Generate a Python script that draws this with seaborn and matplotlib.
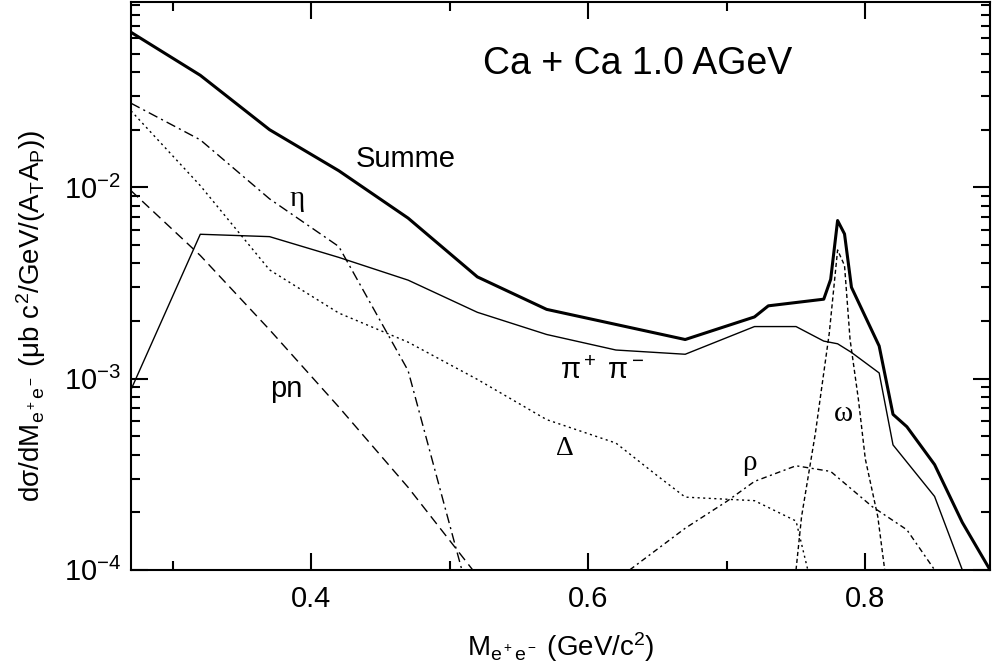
import pandas as pd
import seaborn as sns
import matplotlib.pyplot as plt
from matplotlib.ticker import MultipleLocator, LogLocator, NullFormatter

# dilepton mass (GeV/c^2) and dsigma/dM for each contribution
summe_m = [0.27, 0.32, 0.37, 0.42, 0.47, 0.52, 0.57, 0.67, 0.72, 0.73, 0.77, 0.775, 0.78, 0.785, 0.79,
           0.81, 0.82, 0.83, 0.85, 0.87, 0.89]
summe_y = [0.0646, 0.0385, 0.0200, 0.0122, 0.0069, 0.0034, 0.0023, 0.0016, 0.0021, 0.0024, 0.0026, 0.0033,
           0.0067, 0.0057, 0.0030, 0.00148, 0.00065, 0.00056, 0.000355, 0.000177, 0.0001]

pipi_m = [0.27, 0.32, 0.37, 0.42, 0.47, 0.52, 0.57, 0.62, 0.67, 0.72, 0.75, 0.77, 0.78, 0.79, 0.81,
          0.82, 0.85, 0.87]
pipi_y = [0.000875, 0.00568, 0.00552, 0.0043, 0.00327, 0.00222, 0.0017, 0.00141, 0.00134, 0.00187,
          0.00187, 0.00157, 0.00152, 0.00137, 0.00107, 0.00045, 0.000242, 0.0001]

eta_m = [0.27, 0.32, 0.37, 0.42, 0.47, 0.52]
eta_y = [0.0275, 0.0177, 0.0087, 0.0049, 0.0011, 0.00005]

delta_m = [0.27, 0.32, 0.37, 0.42, 0.47, 0.52, 0.57, 0.62, 0.65, 0.67, 0.72, 0.75, 0.76]
delta_y = [0.0251, 0.0102, 0.0037, 0.0022, 0.00155, 0.00099, 0.00061, 0.00046, 0.00031, 0.00024,
           0.00023, 0.00018, 0.00009]

pn_m = [0.27, 0.32, 0.37, 0.42, 0.47, 0.52]
pn_y = [0.0096, 0.0044, 0.0018, 0.00071, 0.00027, 0.000093]

rho_m = [0.63, 0.67, 0.70, 0.72, 0.75, 0.775, 0.805, 0.83, 0.85]
rho_y = [0.0001, 0.000165, 0.000228, 0.00029, 0.00035, 0.000327, 0.000214, 0.000162, 0.0001]

omega_m = [0.75, 0.754, 0.764, 0.774, 0.78, 0.785, 0.789, 0.795, 0.80, 0.809, 0.814]
omega_y = [0.0001, 0.00019, 0.00052, 0.00173, 0.0047, 0.0039, 0.0016, 0.00078, 0.00038, 0.00019, 0.0001]

sns.set_theme(style="ticks")
plt.rcParams['font.family'] = ['Liberation Sans', 'DejaVu Sans']
plt.rcParams['mathtext.fontset'] = 'custom'
plt.rcParams['mathtext.rm'] = 'Liberation Sans'
plt.rcParams['mathtext.it'] = 'Liberation Sans:italic'
plt.rcParams['mathtext.bf'] = 'Liberation Sans:bold'
plt.rcParams['text.color'] = 'black'
plt.rcParams['axes.labelcolor'] = 'black'

fig = plt.figure(figsize=(10, 6.72), dpi=100)
ax = fig.add_axes([0.131, 0.152, 0.859, 0.845])
ax.set_yscale('log')

curves = [
    (summe_m, summe_y, 2.2, '-'),
    (pipi_m, pipi_y, 1.0, '-'),
    (eta_m, eta_y, 1.0, (0, (7, 3, 1.5, 3))),
    (delta_m, delta_y, 1.0, (0, (1.5, 2.5))),
    (pn_m, pn_y, 1.0, (0, (7, 4))),
    (rho_m, rho_y, 1.0, (0, (4, 2.5, 1.5, 2.5))),
    (omega_m, omega_y, 1.0, (0, (3, 2))),
]
for m, y, lw, ls in curves:
    df = pd.DataFrame({'m': m, 'y': y})
    sns.lineplot(data=df, x='m', y='y', color='black', lw=lw, linestyle=ls, ax=ax)

ax.set_xlim(0.27, 0.89)
ax.set_ylim(1e-4, 0.093)
ax.xaxis.set_major_locator(MultipleLocator(0.2))
ax.xaxis.set_minor_locator(MultipleLocator(0.1))
ax.yaxis.set_major_locator(LogLocator(base=10))
ax.yaxis.set_minor_locator(LogLocator(base=10, subs=range(2, 10)))
ax.yaxis.set_minor_formatter(NullFormatter())

ax.tick_params(which='both', direction='in', top=True, right=True, width=1.5, colors='black')
ax.tick_params(which='major', length=12, labelsize=21)
ax.tick_params(which='minor', length=6.5)
ax.tick_params(axis='x', pad=11)
ax.tick_params(axis='y', pad=7)
for sp in ax.spines.values():
    sp.set_linewidth(1.5)
    sp.set_color('black')

ax.set_xlabel(r'$\mathrm{M_{e^+e^-}\ (GeV/c^2)}$', fontsize=20, labelpad=12)
ax.set_ylabel(r'$\mathrm{d}$σ$\mathrm{/dM_{e^+e^-}\ (}$μ$\mathrm{b\ c^2/GeV/(A_TA_P))}$', fontsize=20)
ax.yaxis.set_label_coords(-0.097, 0.447)

greek = ['Liberation Serif', 'DejaVu Serif']
ax.text(0.636, 0.039, 'Ca + Ca 1.0 AGeV', fontsize=27, ha='center', va='baseline')
ax.text(0.468, 0.014, 'Summe', fontsize=21, ha='center', va='center')
ax.text(0.39, 0.0087, 'η', fontsize=21, family=greek, ha='center', va='center')
ax.text(0.382, 0.00088, 'pn', fontsize=21, ha='center', va='center')
ax.text(0.61, 0.00109, r'$\mathrm{π^+\ π^-}$', fontsize=21, ha='center', va='center')
ax.text(0.583, 0.00043, 'Δ', fontsize=20, family=greek, ha='center', va='center')
ax.text(0.716, 0.00036, 'ρ', fontsize=21, family=greek, ha='center', va='center')
ax.text(0.784, 0.00065, 'ω', fontsize=21, family=greek, ha='center', va='center')

fig.savefig('out.png', dpi=100)
